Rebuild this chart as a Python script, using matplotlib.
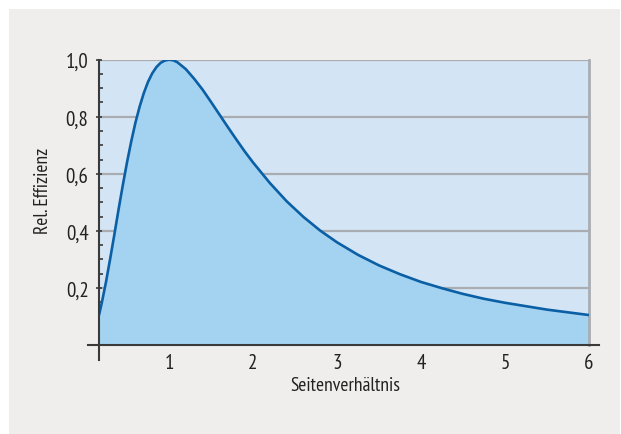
import matplotlib
matplotlib.use("Agg")
import matplotlib.pyplot as plt
from matplotlib.patches import Rectangle
from matplotlib.ticker import MultipleLocator, FixedLocator

plt.rcParams['font.family'] = ['PT Sans Narrow', 'Fira Sans Condensed', 'Asap Condensed', 'DejaVu Sans']

# data
ratio = [0.167, 0.2, 0.25, 0.3, 0.35, 0.4, 0.45, 0.5, 0.55, 0.6, 0.65, 0.7, 0.75,
         0.8, 0.85, 0.9, 0.95, 1.0, 1.05, 1.1, 1.2, 1.3, 1.4, 1.5, 1.6, 1.7, 1.8,
         1.9, 2.0, 2.2, 2.4, 2.6, 2.8, 3.0, 3.25, 3.5, 3.75, 4.0, 4.25, 4.5, 4.75,
         5.0, 5.5, 6.0]
efficiency = [0.105, 0.148, 0.221, 0.303, 0.388, 0.476, 0.560, 0.640, 0.713, 0.779, 0.835,
              0.883, 0.922, 0.952, 0.974, 0.989, 0.997, 1.000, 0.998, 0.991, 0.967, 0.933,
              0.895, 0.852, 0.808, 0.764, 0.721, 0.679, 0.640, 0.568, 0.504, 0.449, 0.401,
              0.360, 0.316, 0.279, 0.248, 0.221, 0.199, 0.179, 0.162, 0.148, 0.124, 0.105]
x_ticks = [1, 2, 3, 4, 5, 6]
x_labels = ['1', '2', '3', '4', '5', '6']
y_ticks = [0.2, 0.4, 0.6, 0.8, 1.0]
y_labels = ['0,2', '0,4', '0,6', '0,8', '1,0']

W, H = 621, 435
fig = plt.figure(figsize=(W / 100, H / 100), dpi=100)
fig.patch.set_facecolor('white')
bg = fig.add_axes([0, 0, 1, 1], zorder=-10)
bg.set_axis_off()
bg.set_xlim(0, W)
bg.set_ylim(H, 0)
bg.add_patch(Rectangle((9, 10), 611, 425, facecolor='#efeeec', edgecolor='none'))

L, R, T, B = 99, 589, 60.7, 346
ax = fig.add_axes([L / W, (H - B) / H, (R - L) / W, (B - T) / H], zorder=1)
ax.set_facecolor('#d3e5f5')
ax.set_xlim(1 / 6, 6)
ax.set_ylim(0, 1.0)

ax.fill_between(ratio, efficiency, 0, color='#a3d3f0', zorder=2, linewidth=0)
ax.plot(ratio, efficiency, color='#0b5fa5', linewidth=1.9, zorder=4,
        solid_capstyle='butt', solid_joinstyle='round')

for v in y_ticks:
    ax.axhline(v, color='#a9adb2', linewidth=1.6, zorder=1)

ax.spines['top'].set_visible(False)
ax.spines['right'].set_color('#a9adb2')
ax.spines['right'].set_linewidth(2)
ax.spines['left'].set_visible(False)
ax.spines['bottom'].set_visible(False)

# extended axis lines
ax.plot([-0.0224, 1.0204], [0, 0], transform=ax.transAxes, color='#3a3a3a',
        linewidth=1.5, clip_on=False, zorder=5)
ax.plot([0, 0], [-0.0526, 1.0], transform=ax.transAxes, color='#3a3a3a',
        linewidth=1.5, clip_on=False, zorder=5)

ax.xaxis.set_major_locator(FixedLocator(x_ticks))
ax.set_xticklabels(x_labels)
ax.xaxis.set_minor_locator(MultipleLocator(0.2))
ax.yaxis.set_major_locator(FixedLocator(y_ticks))
ax.set_yticklabels(y_labels)
ax.yaxis.set_minor_locator(MultipleLocator(0.05))

ax.tick_params(axis='x', which='major', direction='in', length=4.5, width=1.2,
               color='#3a3a3a', labelsize=15, pad=5.5, labelcolor='#222222')
ax.tick_params(axis='x', which='minor', direction='in', length=3, width=1.2,
               color='#3a3a3a')
ax.tick_params(axis='y', which='major', direction='inout', length=5, width=1.2,
               color='#3a3a3a', labelsize=15, pad=5, labelcolor='#222222')
ax.tick_params(axis='y', which='minor', direction='in', length=3, width=1.2,
               color='#3a3a3a')
for t in ax.xaxis.get_major_ticks() + ax.xaxis.get_minor_ticks() + \
         ax.yaxis.get_major_ticks() + ax.yaxis.get_minor_ticks():
    t.tick1line.set_zorder(6)

fig.text(345 / W, 1 - 386 / H, 'Seitenverhältnis', ha='center', va='center',
         fontsize=14, color='#222222')
fig.text(42.5 / W, 1 - 191 / H, 'Rel. Effizienz', ha='center', va='center',
         rotation=90, fontsize=14, color='#222222')

fig.savefig('out.png', dpi=100, facecolor=fig.get_facecolor())
